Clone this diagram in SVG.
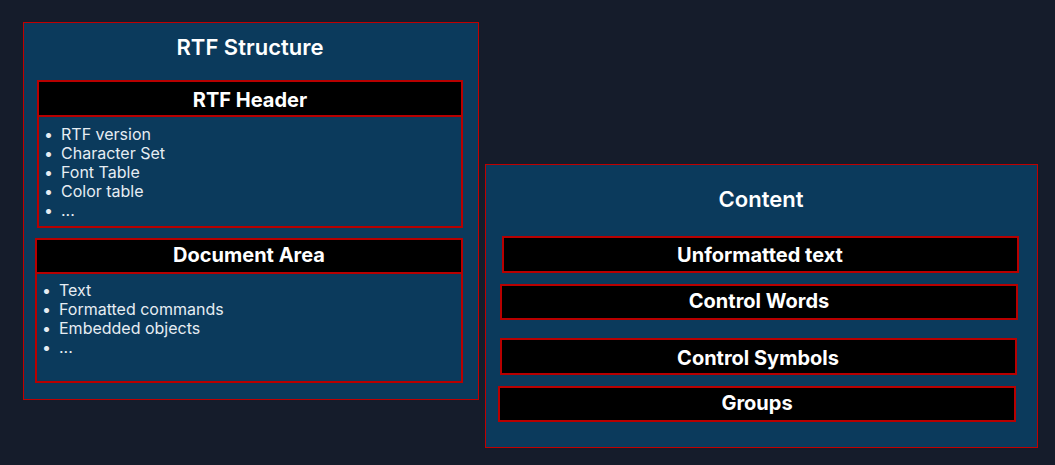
<svg xmlns="http://www.w3.org/2000/svg" width="1055" height="465" viewBox="0 0 1055 465">
<style>
.panel{fill:#0b3a5c;stroke:#c00000;stroke-width:1}
.hdr{fill:#000000;stroke:#b80000;stroke-width:2}
.body{fill:#0b3a5c;stroke:#b80000;stroke-width:2}
.title{font-family:Inter,"Liberation Sans",sans-serif;font-size:20px;font-weight:700;fill:#ffffff;text-anchor:middle}
.ptitle{font-family:Inter,"Liberation Sans",sans-serif;font-size:22px;font-weight:600;fill:#ffffff;text-anchor:middle}
.item{font-family:Inter,"Liberation Sans",sans-serif;font-size:16px;fill:#e6edf3}
</style>
<rect x="0" y="0" width="1055" height="465" fill="#151c2b"/>
<g id="rtf-structure">
<rect class="panel" x="23.5" y="22.5" width="455" height="377"/>
<text class="ptitle" x="250" y="55">RTF Structure</text>
</g>
<g id="rtf-header">
<rect class="body" x="38" y="81" width="424" height="146"/>
<rect class="hdr" x="38" y="81" width="424" height="35"/>
<text class="title" x="250" y="107">RTF Header</text>
<g class="item">
<text x="44" y="140">•</text><text x="61" y="140">RTF version</text>
<text x="44" y="159">•</text><text x="61" y="159">Character Set</text>
<text x="44" y="178">•</text><text x="61" y="178">Font Table</text>
<text x="44" y="197">•</text><text x="61" y="197">Color table</text>
<text x="44" y="216">•</text><text x="61" y="216">...</text>
</g>
</g>
<g id="document-area">
<rect class="body" x="36" y="239" width="426" height="143"/>
<rect class="hdr" x="36" y="239" width="426" height="34"/>
<text class="title" x="249" y="262">Document Area</text>
<g class="item">
<text x="42" y="296">•</text><text x="59" y="296">Text</text>
<text x="42" y="315">•</text><text x="59" y="315">Formatted commands</text>
<text x="42" y="334">•</text><text x="59" y="334">Embedded objects</text>
<text x="42" y="353">•</text><text x="59" y="353">...</text>
</g>
</g>
<g id="content">
<rect class="panel" x="485.5" y="164.5" width="552" height="283"/>
<text class="ptitle" x="761" y="207">Content</text>
</g>
<g id="unformatted-text">
<rect class="hdr" x="503" y="237" width="515" height="35"/>
<text class="title" x="760" y="262">Unformatted text</text>
</g>
<g id="control-words">
<rect class="hdr" x="501" y="285" width="516" height="34"/>
<text class="title" x="759" y="308">Control Words</text>
</g>
<g id="control-symbols">
<rect class="hdr" x="501" y="339" width="515" height="35"/>
<text class="title" x="758" y="364.5">Control Symbols</text>
</g>
<g id="groups">
<rect class="hdr" x="499" y="387" width="516" height="34"/>
<text class="title" x="757" y="410">Groups</text>
</g>
<g id="connectors"/>
</svg>
